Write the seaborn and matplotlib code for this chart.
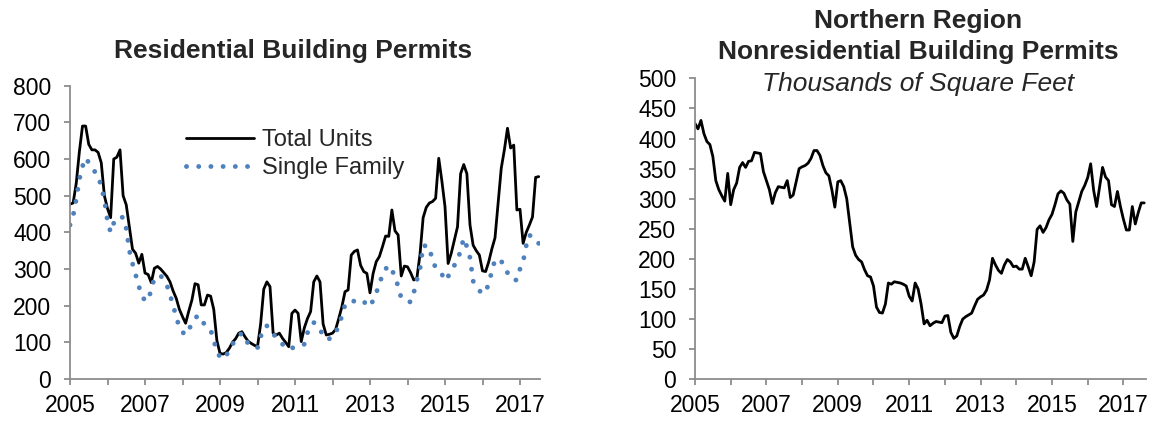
import numpy as np
import pandas as pd
import matplotlib
matplotlib.use("Agg")
import matplotlib.pyplot as plt
from matplotlib.lines import Line2D
import seaborn as sns

# Monthly residential permits, Jan 2005 onward (units)
total_units = [
    477, 480, 534, 620, 690, 690, 640, 625, 625, 618, 590, 500,
    465, 440, 600, 605, 625, 500, 475, 415, 354, 343, 316, 340,
    289, 285, 263, 302, 307, 300, 290, 280, 265, 240, 220, 190,
    170, 152, 185, 215, 260, 257, 202, 202, 229, 226, 190, 105,
    70, 68, 72, 84, 100, 110, 125, 129, 115, 103, 97, 92,
    88, 150, 245, 265, 252, 125, 120, 125, 111, 100, 88, 179,
    188, 179, 102, 140, 165, 184, 265, 281, 265, 150, 120, 122,
    125, 135, 165, 197, 238, 243, 338, 348, 352, 310, 293, 288,
    235, 288, 320, 334, 361, 390, 389, 461, 404, 393, 281, 308,
    306, 290, 270, 275, 340, 440, 468, 480, 484, 493, 602, 540,
    470, 315, 343, 379, 415, 560, 585, 560, 420, 365, 350, 338,
    295, 293, 320, 355, 385, 480, 575, 625, 684, 630, 638, 461,
    463, 370, 400, 420, 442, 550, 552,
]
single_family = [
    420, 445, 490, 545, 580, 603, 590, 575, 565, 556, 524, 490,
    430, 400, 425, 441, 441, 441, 410, 350, 315, 284, 254, 225,
    215, 213, 245, 275, 280, 282, 270, 256, 230, 200, 170, 140,
    128, 120, 135, 150, 165, 174, 160, 150, 140, 134, 106, 75,
    60, 54, 65, 77, 95, 106, 118, 125, 110, 97, 90, 88,
    85, 115, 140, 145, 130, 122, 115, 106, 95, 84, 82, 85,
    85, 88, 92, 95, 126, 145, 154, 148, 138, 115, 109, 110,
    113, 128, 143, 173, 202, 210, 214, 212, 208, 206, 211, 203,
    197, 215, 236, 256, 288, 300, 310, 296, 282, 252, 221, 215,
    212, 210, 235, 270, 300, 365, 362, 361, 320, 305, 295, 286,
    268, 280, 293, 310, 322, 352, 384, 361, 331, 267, 255, 240,
    237, 234, 263, 293, 326, 325, 323, 300, 290, 275, 270, 270,
    300, 320, 364, 393, 385, 372, 370,
]

# Monthly nonresidential permits, Northern Region, Jan 2005 onward (thousand sq ft)
nonresidential = [
    425, 416, 430, 408, 395, 390, 370, 330, 315, 305, 296, 342,
    290, 315, 326, 352, 360, 352, 362, 363, 377, 376, 375, 345,
    330, 315, 292, 310, 320, 319, 318, 330, 302, 306, 328, 350,
    353, 355, 359, 367, 380, 380, 372, 355, 343, 338, 315, 286,
    328, 330, 320, 300, 260, 220, 206, 199, 195, 182, 172, 170,
    155, 120, 111, 110, 125, 160, 158, 162, 161, 160, 158, 155,
    138, 130, 160, 150, 125, 92, 98, 89, 93, 96, 95, 94,
    105, 106, 78, 68, 72, 88, 100, 104, 107, 110, 122, 133,
    137, 140, 148, 165, 201, 190, 181, 176, 190, 199, 195, 187,
    188, 183, 183, 201, 187, 172, 195, 249, 255, 244, 252, 265,
    274, 290, 308, 313, 309, 298, 291, 229, 278, 295, 312, 322,
    335, 358, 314, 287, 320, 352, 336, 330, 290, 287, 312, 287,
    266, 248, 248, 287, 258, 277, 293, 293,
]

year_ticks = list(range(2005, 2018))
year_labels = [str(y) if y % 2 == 1 else "" for y in year_ticks]
res_yticks = list(range(0, 801, 100))
nonres_yticks = list(range(0, 501, 50))


def monthly_frame(values):
    months = np.arange(len(values))
    return pd.DataFrame({"year": 2005 + months / 12.0, "value": values})


res_total = monthly_frame(total_units)
res_single = monthly_frame(single_family)
nonres = monthly_frame(nonresidential)

sns.set_theme(style="white")
plt.rcParams["font.family"] = ["Liberation Sans", "DejaVu Sans"]

AXIS_GREY = "#8c8c8c"
BLUE = "#4f81bd"
TICK_FS = 16.5
LEGEND_FS = 17
TITLE_FS = 19
LINE_W = 2.0
DOT_W = 3.5
DOT_STYLE = (0, (0.01, 2.5))

fig = plt.figure(figsize=(11.54, 4.22), dpi=100)
ax1 = fig.add_axes([70 / 1154, 43 / 422, 470 / 1154, 293.3 / 422])
ax2 = fig.add_axes([695 / 1154, 42.7 / 422, 451 / 1154, 301 / 422])


def style_axis(ax, yticks, xmax):
    ax.set_xlim(2005, xmax)
    ax.set_ylim(yticks[0], yticks[-1])
    ax.set_xticks(year_ticks)
    ax.set_xticklabels(year_labels)
    ax.set_yticks(yticks)
    for side in ("top", "right"):
        ax.spines[side].set_visible(False)
    for side in ("left", "bottom"):
        ax.spines[side].set_color(AXIS_GREY)
        ax.spines[side].set_linewidth(1.3)
    ax.tick_params(axis="both", which="both", direction="out", length=4.5,
                   width=1.3, color=AXIS_GREY, labelsize=TICK_FS,
                   labelcolor="black", bottom=True, left=True)
    ax.tick_params(axis="y", pad=9)
    ax.tick_params(axis="x", pad=6)
    ax.set_xlabel("")
    ax.set_ylabel("")
    ax.grid(False)


# Residential panel
sns.lineplot(data=res_total, x="year", y="value", ax=ax1, color="black",
             linewidth=LINE_W, estimator=None)
sns.lineplot(data=res_single, x="year", y="value", ax=ax1, color=BLUE,
             linewidth=DOT_W, estimator=None)
dots = ax1.lines[-1]
dots.set_linestyle(DOT_STYLE)
dots.set_dash_capstyle("round")
style_axis(ax1, res_yticks, 2005 + 150.4 / 12)

handles = [
    Line2D([], [], color="black", linewidth=LINE_W),
    Line2D([], [], color=BLUE, linewidth=DOT_W, linestyle=DOT_STYLE,
           dash_capstyle="round"),
]
ax1.legend(handles, ["Total Units", "Single Family"], loc="upper left",
           bbox_to_anchor=(186 / 1154, 1 - 129 / 422), bbox_transform=fig.transFigure,
           frameon=False, fontsize=LEGEND_FS, handlelength=2.9, handletextpad=0.34,
           labelspacing=0.25, borderaxespad=0, borderpad=0)

fig.text(293 / 1154, 1 - 51 / 422, "Residential Building Permits", ha="center",
         va="center", fontsize=TITLE_FS, fontweight="bold")

# Nonresidential panel
sns.lineplot(data=nonres, x="year", y="value", ax=ax2, color="black",
             linewidth=LINE_W, estimator=None)
style_axis(ax2, nonres_yticks, 2005 + 151.6 / 12)

fig.text(918 / 1154, 1 - 21 / 422, "Northern Region", ha="center", va="center",
         fontsize=TITLE_FS, fontweight="bold")
fig.text(918 / 1154, 1 - 52 / 422, "Nonresidential Building Permits", ha="center",
         va="center", fontsize=TITLE_FS, fontweight="bold")
fig.text(918 / 1154, 1 - 84 / 422, "Thousands of Square Feet", ha="center",
         va="center", fontsize=TITLE_FS, fontstyle="italic")

fig.savefig("out.png", dpi=100, facecolor="white")
